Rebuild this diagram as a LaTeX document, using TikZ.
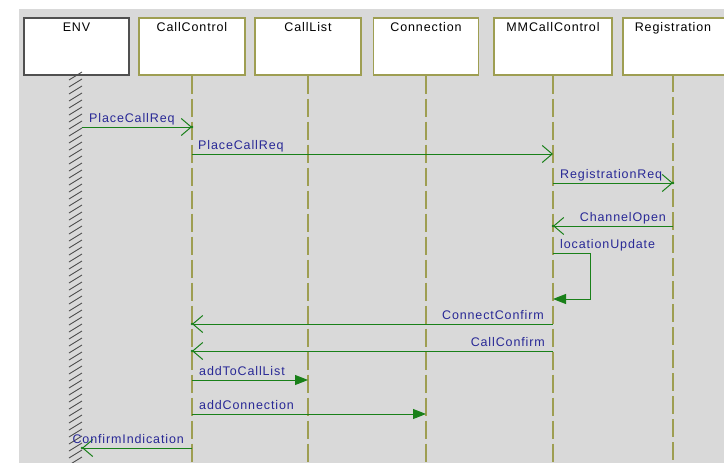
\documentclass[tikz,border=0pt]{standalone}
\usepackage{fontspec}
\setmainfont{Liberation Sans}[LetterSpace=7]
\usetikzlibrary{arrows.meta,calc}
\definecolor{bggray}{RGB}{217,217,217}
\definecolor{lifeol}{RGB}{158,158,82}
\definecolor{envgray}{RGB}{80,80,80}
\definecolor{msggreen}{RGB}{25,128,25}
\definecolor{lbl}{RGB}{40,40,150}
\tikzset{
  objbox/.style={draw=lifeol, line width=1.5pt, fill=white, minimum width=106pt, minimum height=57pt, inner sep=0pt, anchor=north},
  objtext/.style={anchor=base, inner sep=0pt, font=\fontsize{12.5}{14}\selectfont, text=black},
  life/.style={draw=lifeol, line width=1.6pt, dash pattern=on 18pt off 5pt},
  hatchline/.style={draw=envgray, line width=0.9pt},
  msg/.style={draw=msggreen, line width=1pt, -{Straight Barb[length=10pt,width=17pt,line width=1pt]}},
  callmsg/.style={draw=msggreen, line width=1pt, -{Triangle[length=13pt,width=10pt]}},
  lab/.style={text=lbl, inner sep=0pt, font=\fontsize{12.5}{14}\selectfont},
  tipdot/.style={fill=msggreen}
}
\begin{document}
\begin{tikzpicture}[x=1pt,y=-1pt]
\useasboundingbox (0,0) rectangle (724,463);
\clip (0,0) rectangle (724,463);
\fill[bggray] (19,9) rectangle (730,470);
% objects
\node[objbox, draw=envgray, minimum width=105pt] (env) at (76.5,17) {};
\node[objbox] (cc) at (192,17) {};
\node[objbox] (cl) at (308,17) {};
\node[objbox, minimum width=105pt] (cn) at (426,17) {};
\node[objbox, minimum width=118pt] (mm) at (553,17) {};
\node[objbox, anchor=north west, minimum width=112pt] (reg) at (622,17) {};
\node[objtext] (envt) at ($(env.north)+(0,14)$) {ENV};
\node[objtext] (cct) at ($(cc.north)+(0,14)$) {CallControl};
\node[objtext] (clt) at ($(cl.north)+(0,14)$) {CallList};
\node[objtext] (cnt) at ($(cn.north)+(0,14)$) {Connection};
\node[objtext] (mmt) at ($(mm.north)+(0,14)$) {MMCallControl};
\node[objtext] (regt) at (673,31) {Registration};
% lifelines
\coordinate (envr) at (82,74);
\coordinate (regl) at (673,74);
\foreach \y in {80,87,...,475} \draw[hatchline] (69,\y) -- (82,\y-8);
\draw[life] (cc.south) -- (cc.south |- 0,470);
\draw[life] (cl.south) -- (cl.south |- 0,470);
\draw[life] (cn.south) -- (cn.south |- 0,470);
\draw[life] (mm.south) -- (mm.south |- 0,470);
\draw[life] (regl) -- (regl |- 0,470);
% messages
\draw[msg] (envr |- 0,127) -- (cc.south |- 0,127);
\fill[tipdot] (cc.south |- 0,127) circle (1.4);
\node[lab, anchor=base west] (m1) at ($(envr |- 0,127)+(7,-5)$) {PlaceCallReq};

\draw[msg] (cc.south |- 0,154) -- (mm.south |- 0,154);
\node[lab, anchor=base west] (m2) at ($(cc.south |- 0,154)+(6,-5)$) {PlaceCallReq};

\draw[msg] (mm.south |- 0,183) -- (regl |- 0,183);
\fill[tipdot] (regl |- 0,183) circle (1.4);
\node[lab, anchor=base west] (m3) at ($(mm.south |- 0,183)+(7,-5)$) {RegistrationReq};

\draw[msg] (regl |- 0,226) -- (mm.south |- 0,226);
\fill[tipdot] (mm.south |- 0,226) circle (1.4);
\node[lab, anchor=base east] (m4) at ($(regl |- 0,226)+(-7,-5)$) {ChannelOpen};

\coordinate (selfa) at ($(mm.south |- 0,253)+(37,0)$);
\coordinate (selfb) at ($(mm.south |- 0,299)+(37,0)$);
\draw[callmsg] (mm.south |- 0,253) -- (selfa) -- (selfb) -- (mm.south |- 0,299);
\node[lab, anchor=base west] (m5) at ($(mm.south |- 0,253)+(7,-5)$) {locationUpdate};

\draw[msg] (mm.south |- 0,324) -- (cc.south |- 0,324);
\fill[tipdot] (cc.south |- 0,324) circle (1.4);
\node[lab, anchor=base east] (m6) at ($(mm.south |- 0,324)+(-9,-5)$) {ConnectConfirm};

\draw[msg] (mm.south |- 0,351) -- (cc.south |- 0,351);
\fill[tipdot] (cc.south |- 0,351) circle (1.4);
\node[lab, anchor=base east] (m7) at ($(mm.south |- 0,351)+(-8,-5)$) {CallConfirm};

\draw[callmsg] (cc.south |- 0,380) -- (cl.south |- 0,380);
\node[lab, anchor=base west] (m8) at ($(cc.south |- 0,380)+(7,-5)$) {addToCallList};

\draw[callmsg] (cc.south |- 0,414) -- (cn.south |- 0,414);
\node[lab, anchor=base west] (m9) at ($(cc.south |- 0,414)+(7,-5)$) {addConnection};

\draw[msg] (cc.south |- 0,448) -- (envr |- 0,448);
\fill[tipdot] (envr |- 0,448) circle (1.4);
\node[lab, anchor=base east] (m10) at ($(cc.south |- 0,448)+(-8,-5)$) {ConfirmIndication};
\end{tikzpicture}
\end{document}
